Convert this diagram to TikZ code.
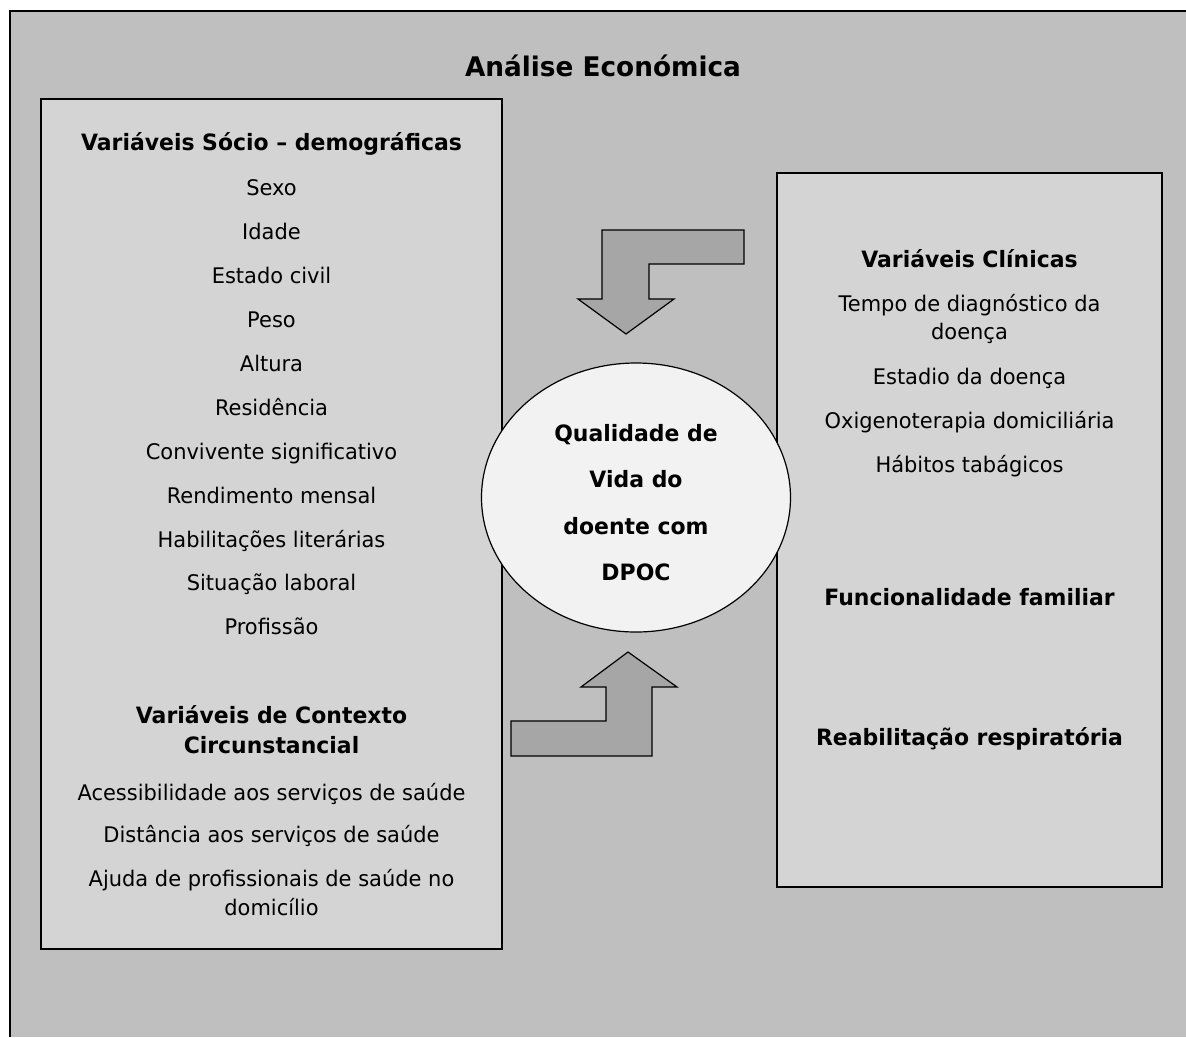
\documentclass[tikz,border=0pt]{standalone}
\usepackage{fontspec}
\setmainfont{DejaVu Sans}[FakeStretch=0.975]
\usetikzlibrary{shapes.geometric}
\definecolor{bgout}{HTML}{BFBFBF}
\definecolor{boxfill}{HTML}{D4D4D4}
\definecolor{ellfill}{HTML}{F2F2F2}
\definecolor{arrfill}{HTML}{A6A6A6}
\begin{document}
\begin{tikzpicture}[x=1pt,y=-1pt,
  reg/.style={font=\fontsize{21.5}{26}\selectfont, inner sep=0pt, anchor=base},
  hdr/.style={font=\fontsize{22.5}{27}\selectfont\bfseries, inner sep=0pt, anchor=base},
  ttl/.style={font=\fontsize{27}{32}\selectfont\bfseries, inner sep=0pt, anchor=base},
  panel/.style={draw=black, line width=1.8pt, fill=boxfill},
  blockarrow/.style={draw=black, line width=1.2pt, fill=arrfill, line join=miter}]
\useasboundingbox (0,0) rectangle (1186,1037);
% outer frame
\fill[bgout] (10,11) rectangle (1186,1037);
\draw[line width=1.6pt] (10,1037) -- (10,11) -- (1186,11);
\node[ttl] (title) at (603,76) {Análise Económica};
% left panel
\draw[panel] (41,99) rectangle (502,949);
\node[hdr] (h1) at (271.5,150) {Variáveis Sócio – demográficas};
\node[reg] (l1) at (271.5,195) {Sexo};
\node[reg] (l2) at (271.5,239) {Idade};
\node[reg] (l3) at (271.5,283) {Estado civil};
\node[reg] (l4) at (271.5,327) {Peso};
\node[reg] (l5) at (271.5,371) {Altura};
\node[reg] (l6) at (271.5,415) {Residência};
\node[reg] (l7) at (271.5,459) {Convivente significativo};
\node[reg] (l8) at (271.5,503) {Rendimento mensal};
\node[reg] (l9) at (271.5,547) {Habilitações literárias};
\node[reg] (l10) at (271.5,590) {Situação laboral};
\node[reg] (l11) at (271.5,634) {Profissão};
\node[hdr] (h2a) at (271.5,723) {Variáveis de Contexto};
\node[hdr] (h2b) at (271.5,753) {Circunstancial};
\node[reg] (c1) at (271.5,800) {Acessibilidade aos serviços de saúde};
\node[reg] (c2) at (271.5,842) {Distância aos serviços de saúde};
\node[reg] (c3a) at (271.5,886) {Ajuda de profissionais de saúde no};
\node[reg] (c3b) at (271.5,915) {domicílio};
% right panel
\draw[panel] (777,173) rectangle (1162,887);
\node[hdr] (h3) at (969.5,267) {Variáveis Clínicas};
\node[reg] (r1a) at (969.5,311.5) {Tempo de diagnóstico da};
\node[reg] (r1b) at (969.5,339) {doença};
\node[reg] (r2) at (969.5,384) {Estadio da doença};
\node[reg] (r3) at (969.5,428) {Oxigenoterapia domiciliária};
\node[reg] (r4) at (969.5,472) {Hábitos tabágicos};
\node[hdr] (h4) at (969.5,605) {Funcionalidade familiar};
\node[hdr] (h5) at (969.5,745) {Reabilitação respiratória};
% block arrows
\draw[blockarrow] (602,230) -- (744,230) -- (744,264) -- (649,264) -- (649,299)
  -- (674,299) -- (626,334) -- (578,299) -- (602,299) -- cycle;
\draw[blockarrow] (511,756) -- (652,756) -- (652,687) -- (677,687) -- (628,652)
  -- (581,687) -- (606,687) -- (606,721) -- (511,721) -- cycle;
% central ellipse
\node[ellipse, draw=black, line width=1.2pt, fill=ellfill, minimum width=309pt,
  minimum height=269pt, inner sep=0pt] (qv) at (636,497.5) {};
\node[hdr] (q1) at (636,441) {Qualidade de};
\node[hdr] (q2) at (636,487.5) {Vida do};
\node[hdr] (q3) at (636,534) {doente com};
\node[hdr] (q4) at (636,580.5) {DPOC};
\end{tikzpicture}
\end{document}
